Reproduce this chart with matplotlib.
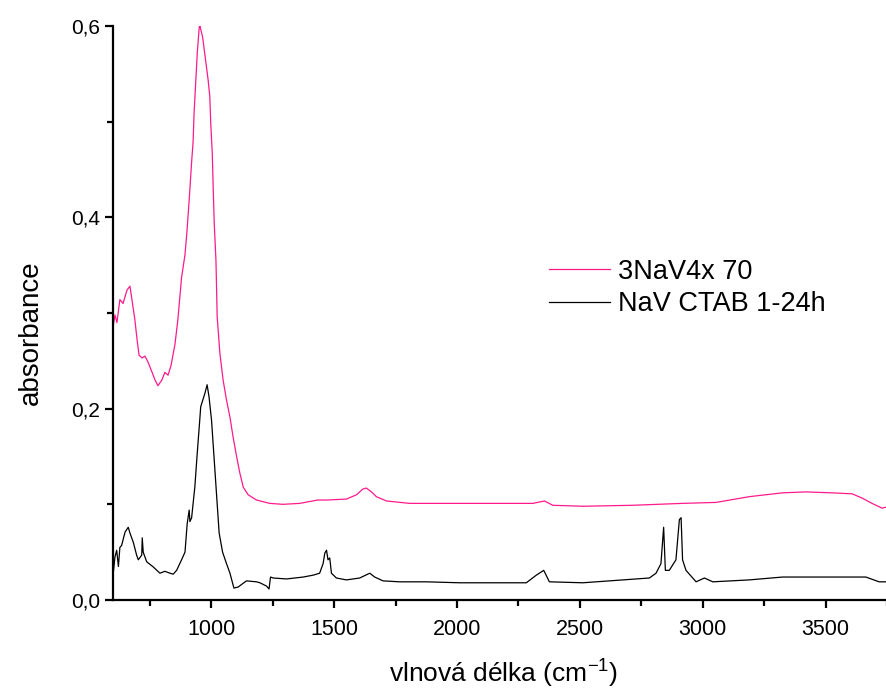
import matplotlib
matplotlib.use("Agg")
import matplotlib.pyplot as plt
from matplotlib.ticker import MultipleLocator, FuncFormatter

plt.rcParams['font.family'] = ['Liberation Sans', 'DejaVu Sans']
plt.rcParams['mathtext.default'] = 'regular'

# 3NaV4x70 spectrum (wavenumber, absorbance)
pink_x = [600, 608, 616, 628, 641, 657, 669, 677, 689, 698, 706, 718, 730, 742,
          759, 771, 783, 799, 811, 824, 836, 852, 864, 879, 893, 900, 910, 920,
          926, 930, 936, 943, 951, 954, 965, 974, 987, 994, 998, 1004, 1008,
          1012, 1019, 1024, 1035, 1048, 1062, 1076, 1089, 1103, 1116, 1130,
          1150, 1184, 1238, 1291, 1360, 1433, 1469, 1550, 1591, 1617, 1631,
          1652, 1672, 1713, 1807, 2011, 2241, 2309, 2356, 2390, 2511, 2714,
          2917, 3054, 3189, 3324, 3420, 3527, 3608, 3649, 3689, 3730, 3746]
pink_y = [0.285, 0.298, 0.290, 0.314, 0.310, 0.324, 0.328, 0.314, 0.293, 0.272,
          0.256, 0.253, 0.255, 0.249, 0.238, 0.230, 0.224, 0.230, 0.238, 0.235,
          0.245, 0.267, 0.293, 0.337, 0.361, 0.382, 0.418, 0.458, 0.479, 0.509,
          0.538, 0.572, 0.599, 0.600, 0.588, 0.570, 0.544, 0.526, 0.497, 0.467,
          0.429, 0.394, 0.355, 0.296, 0.258, 0.230, 0.209, 0.191, 0.170, 0.150,
          0.133, 0.118, 0.110, 0.1045, 0.101, 0.100, 0.101, 0.1045, 0.1045,
          0.1055, 0.110, 0.116, 0.117, 0.113, 0.108, 0.1035, 0.101, 0.101,
          0.101, 0.101, 0.1035, 0.099, 0.098, 0.099, 0.101, 0.102, 0.108,
          0.112, 0.113, 0.112, 0.111, 0.1065, 0.101, 0.096, 0.097]

# NaV CTAB 1-24h spectrum
black_x = [601, 608, 615, 622, 628, 635, 649, 662, 669, 683, 696, 703, 717, 719,
           723, 737, 764, 791, 811, 832, 845, 859, 879, 893, 902, 910, 913, 920,
           933, 943, 951, 957, 963, 974, 983, 991, 1001, 1011, 1022, 1032, 1046,
           1062, 1076, 1092, 1109, 1143, 1184, 1198, 1225, 1235, 1241, 1252,
           1306, 1374, 1415, 1441, 1455, 1462, 1469, 1475, 1482, 1489, 1509,
           1550, 1604, 1645, 1665, 1699, 1767, 1875, 2011, 2282, 2323, 2353,
           2376, 2512, 2783, 2810, 2830, 2841, 2848, 2864, 2891, 2905, 2912,
           2918, 2932, 2973, 3007, 3041, 3189, 3325, 3460, 3664, 3718, 3746]
black_y = [0.028, 0.045, 0.052, 0.035, 0.055, 0.057, 0.071, 0.076, 0.070, 0.060,
           0.047, 0.042, 0.047, 0.065, 0.050, 0.040, 0.0345, 0.028, 0.030, 0.028,
           0.027, 0.031, 0.042, 0.050, 0.080, 0.094, 0.082, 0.086, 0.118, 0.154,
           0.181, 0.202, 0.207, 0.216, 0.225, 0.212, 0.188, 0.150, 0.108, 0.070,
           0.050, 0.038, 0.028, 0.0125, 0.0135, 0.020, 0.019, 0.018, 0.0145,
           0.0115, 0.024, 0.023, 0.022, 0.024, 0.026, 0.028, 0.038, 0.049,
           0.052, 0.042, 0.044, 0.028, 0.023, 0.021, 0.023, 0.028, 0.024, 0.020,
           0.019, 0.019, 0.018, 0.018, 0.026, 0.031, 0.019, 0.018, 0.023, 0.028,
           0.038, 0.076, 0.031, 0.031, 0.042, 0.084, 0.086, 0.042, 0.031, 0.019,
           0.023, 0.019, 0.021, 0.024, 0.024, 0.024, 0.019, 0.019]

labels = ['3NaV4x 70', 'NaV CTAB 1-24h']

fig = plt.figure(figsize=(8.87, 6.89), dpi=100)
ax = fig.add_axes([113 / 887, 89 / 689, 774 / 887, 574 / 689])

ax.plot(pink_x, pink_y, color='#ff1a8c', lw=0.9, label=labels[0])
ax.plot(black_x, black_y, color='black', lw=0.9, label=labels[1])

ax.set_xlim(600, 3750)
ax.set_ylim(0, 0.6)

for s in ['top', 'right']:
    ax.spines[s].set_visible(False)
ax.spines['left'].set_linewidth(1.6)
ax.spines['bottom'].set_linewidth(1.6)

ax.xaxis.set_major_locator(MultipleLocator(500))
ax.xaxis.set_minor_locator(MultipleLocator(250))
ax.yaxis.set_major_locator(MultipleLocator(0.2))
ax.yaxis.set_minor_locator(MultipleLocator(0.1))
ax.yaxis.set_major_formatter(FuncFormatter(lambda v, p: f"{v:.1f}".replace('.', ',')))
ax.tick_params(which='major', direction='out', length=6, width=1.6)
ax.tick_params(which='minor', direction='out', length=4, width=1.6)
ax.tick_params(axis='x', pad=8, labelsize=15.5)
ax.tick_params(axis='y', pad=3, labelsize=15)

ax.set_xlabel('vlnová délka (cm$^{-1}$)', fontsize=19)
ax.set_ylabel('absorbance', fontsize=20)
ax.xaxis.set_label_coords(0.505, -0.100)
ax.yaxis.set_label_coords(-0.089, 0.465)

ax.legend(loc='upper left', bbox_to_anchor=(527 / 887, 1 - 237 / 689),
          bbox_transform=fig.transFigure, frameon=False, fontsize=19.5,
          handlelength=2.25, handletextpad=0.3, labelspacing=0.25,
          borderpad=0.3)

fig.savefig('out.png', dpi=100)
